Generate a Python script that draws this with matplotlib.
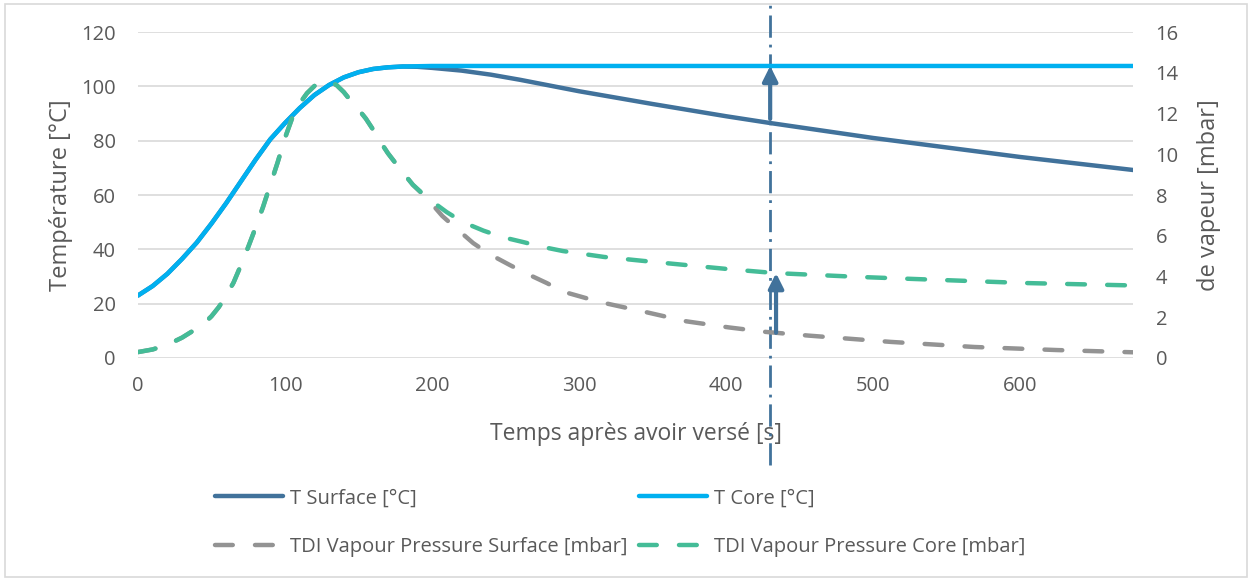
import matplotlib.pyplot as plt
import numpy as np
from matplotlib.patches import Rectangle

# temperature curves (left axis, deg C)
t_temp = [0, 10, 20, 30, 40, 50, 60, 70, 80, 90, 100, 110, 120, 130, 140, 150, 160, 170, 180, 190,
          200, 220, 240, 260, 280, 300, 350, 400, 430, 500, 550, 600, 677]
T_core = [23, 26.5, 31, 36.5, 42.5, 49.5, 57, 65, 73, 80.5, 86.5, 92, 96.8, 100.5, 103.3, 105.2,
          106.4, 107, 107.3, 107.4, 107.5, 107.5, 107.5, 107.5, 107.5, 107.5, 107.5, 107.5, 107.5,
          107.5, 107.5, 107.5, 107.5]
T_surface = [23, 26.5, 31, 36.5, 42.5, 49.5, 57, 65, 73, 80.5, 86.5, 92, 96.8, 100.5, 103.3, 105.2,
             106.4, 107, 107.3, 107.2, 106.8, 105.8, 104.3, 102.4, 100.3, 98.2, 93.5, 89, 86.5, 81,
             77.5, 74, 69.2]

# TDI vapour pressure (right axis, mbar)
t_core_p = [0, 10, 20, 30, 40, 45, 50, 55, 60, 65, 70, 75, 80, 85, 90, 95, 100, 105, 110, 115, 120,
            125, 130, 135, 140, 145, 150, 155, 160, 165, 170, 178, 187, 197, 210, 221, 235, 248, 262,
            276, 289, 317, 350, 402, 433, 490, 546, 603, 677]
p_core = [0.29, 0.42, 0.65, 1.0, 1.45, 1.7, 2.05, 2.5, 3.05, 3.7, 4.55, 5.45, 6.4, 7.4, 8.5, 9.6, 10.8,
          11.8, 12.5, 13.0, 13.35, 13.55, 13.55, 13.4, 13.05, 12.6, 12.2, 11.75, 11.2, 10.6, 10.05,
          9.3, 8.5, 7.85, 7.16, 6.67, 6.25, 5.93, 5.69, 5.44, 5.25, 4.96, 4.72, 4.36, 4.17, 3.98,
          3.83, 3.68, 3.56]
t_surf_p = [0, 10, 20, 30, 40, 45, 50, 55, 60, 65, 70, 75, 80, 85, 90, 95, 100, 105, 110, 115, 120,
            125, 130, 135, 140, 145, 150, 155, 160, 165, 170, 178, 187, 197, 207, 217, 228, 239, 253,
            265, 278, 290, 314, 345, 373, 402, 427, 456, 512, 569, 625, 677]
p_surface = [0.29, 0.42, 0.65, 1.0, 1.45, 1.7, 2.05, 2.5, 3.05, 3.7, 4.55, 5.45, 6.4, 7.4, 8.5, 9.6,
             10.8, 11.8, 12.5, 13.0, 13.35, 13.55, 13.55, 13.4, 13.05, 12.6, 12.2, 11.75, 11.2, 10.6,
             10.05, 9.3, 8.5, 7.8, 6.97, 6.33, 5.64, 5.1, 4.56, 4.12, 3.68, 3.24, 2.75, 2.26, 1.8,
             1.5, 1.28, 1.1, 0.79, 0.54, 0.39, 0.28]

t_mark = 430

c_surf = '#41729B'
c_core = '#00B0F0'
c_gray = '#939393'
c_green = '#44BC97'
txt = '#595959'

plt.rcParams['font.family'] = ['Open Sans', 'DejaVu Sans']

fig = plt.figure(figsize=(12.52, 5.79), dpi=100)
ax = fig.add_axes([0.1102, 0.3817, 0.795, 0.563])
ax2 = ax.twinx()

l1, = ax.plot(t_temp, T_surface, color=c_surf, lw=3.2, solid_capstyle='round', solid_joinstyle='round',
              label='T Surface [°C]', zorder=3)
l2, = ax.plot(t_temp, T_core, color=c_core, lw=3.2, solid_capstyle='round', solid_joinstyle='round',
              label='T Core [°C]', zorder=4)
l3, = ax2.plot(t_surf_p, p_surface, color=c_gray, lw=3.2, dashes=(4, 5), dash_capstyle='round',
               label='TDI Vapour Pressure Surface [mbar]')
l4, = ax2.plot(t_core_p, p_core, color=c_green, lw=3.2, dashes=(4, 5), dash_capstyle='round',
               label='TDI Vapour Pressure Core [mbar]')

ax.set_xlim(0, 677)
ax.set_ylim(0, 120)
ax2.set_ylim(0, 16)
ax.set_xticks(np.arange(0, 700, 100))
ax.set_yticks(np.arange(0, 140, 20))
ax2.set_yticks(np.arange(0, 18, 2))
ax.grid(axis='y', color='#D9D9D9', lw=1.2)
ax.set_axisbelow(True)
for a in (ax, ax2):
    for s in a.spines.values():
        s.set_visible(False)
    a.tick_params(length=0, colors=txt, labelsize=14.5)
ax.tick_params(axis='y', pad=16)
ax.tick_params(axis='x', pad=13)
ax2.tick_params(axis='y', pad=16)

ax.set_xlabel('Temps après avoir versé [s]', color=txt, fontsize=16.5, labelpad=19)
ax.set_ylabel('Température [°C]', color=txt, fontsize=17, labelpad=6)
ax2.set_ylabel('de vapeur [mbar]', color=txt, fontsize=17, labelpad=13)

# marker line and arrows
ax.axvline(t_mark, ymin=-0.328, ymax=1.1, color=c_surf, lw=2, dashes=(8, 2.5, 1, 2.5),
           clip_on=False, zorder=2)
a1_lo = np.interp(t_mark, t_temp, T_surface)
a1_hi = np.interp(t_mark, t_temp, T_core)
ax.annotate('', xy=(t_mark, a1_hi), xytext=(t_mark, a1_lo + 1.5),
            arrowprops=dict(arrowstyle='-|>,head_length=0.9,head_width=0.45', color=c_surf, lw=3,
                            shrinkA=0, shrinkB=0), zorder=5)
t2 = t_mark + 4
a2_lo = np.interp(t2, t_surf_p, p_surface)
a2_hi = np.interp(t2, t_core_p, p_core)
ax2.annotate('', xy=(t2, a2_hi), xytext=(t2, a2_lo),
             arrowprops=dict(arrowstyle='-|>,head_length=0.9,head_width=0.45', color=c_surf, lw=3,
                             shrinkA=0, shrinkB=0), zorder=5)

fig.legend([l1, l3, l2, l4], [h.get_label() for h in (l1, l3, l2, l4)], ncol=2,
           loc='upper left', bbox_to_anchor=(0.157, 0.188), frameon=False, fontsize=14.5,
           labelcolor=txt, handlelength=3.4, handletextpad=0.35, columnspacing=0.55,
           labelspacing=1.45)

fig.add_artist(Rectangle((0.004, 0.003), 0.992, 0.99, transform=fig.transFigure, fill=False,
                         edgecolor='#D9D9D9', lw=1.2))

fig.savefig('out.png', dpi=100)
